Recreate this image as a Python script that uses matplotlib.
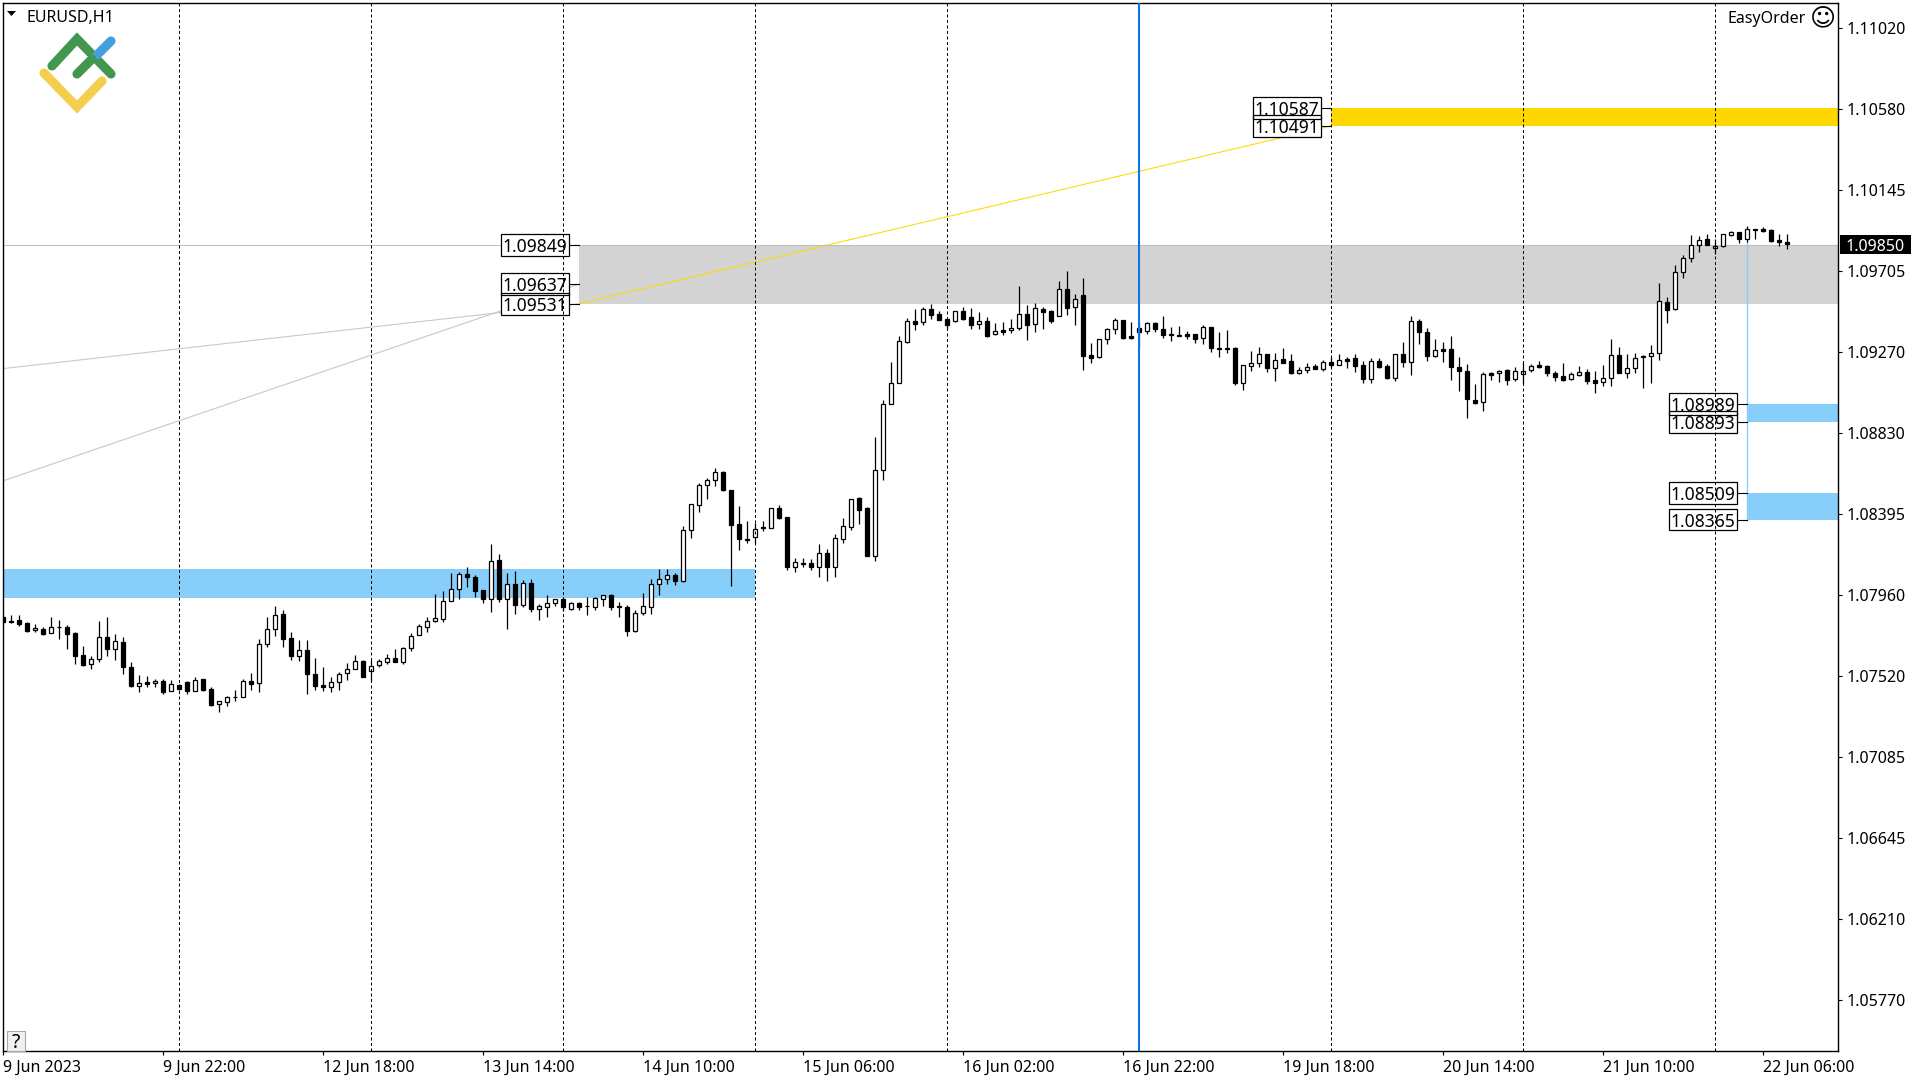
import numpy as np
import matplotlib
matplotlib.use('Agg')
import matplotlib.pyplot as plt
from matplotlib.lines import Line2D
from matplotlib.patches import Rectangle, Polygon

plt.rcParams['font.family'] = ['Noto Sans', 'DejaVu Sans']

# EURUSD H1 candles, in points (1e-5)
highs = [107846,107850,107850,107810,107801,107783,107837,107823,107794,107756,
    107683,107629,107816,107837,107746,107731,107594,107526,107521,107504,
    107504,107499,107477,107492,107513,107504,107459,107384,107411,107445,
    107503,107537,107719,107837,107897,107875,107756,107713,107713,107618,
    107569,107513,107540,107589,107634,107605,107605,107611,107638,107665,
    107679,107751,107800,107836,107963,107980,108075,108080,108109,108064,
    107985,108233,108178,108075,108088,108037,108043,107908,107956,107935,
    107949,107917,107918,107949,107945,107956,107962,107918,107904,107875,
    107967,108043,108097,108097,108075,108329,108448,108561,108588,108642,
    108626,108523,108439,108358,108345,108356,108426,108442,108377,108156,
    108156,108152,108233,108205,108286,108374,108476,108485,108431,108811,
    109011,109216,109355,109452,109502,109511,109529,109492,109448,109490,
    109513,109508,109486,109457,109425,109432,109448,109627,109522,109535,
    109513,109497,109652,109706,109583,109668,109317,109340,109398,109454,
    109443,109432,109434,109430,109432,109465,109403,109411,109384,109367,
    109414,109405,109378,109389,109297,109198,109276,109295,109258,109263,
    109292,109259,109191,109211,109204,109225,109245,109259,109241,109259,
    109220,109238,109236,109204,109258,109322,109465,109447,109400,109340,
    109324,109357,109241,109205,109097,109160,109164,109171,109178,109189,
    109216,109205,109220,109198,109166,109209,109160,109195,109178,109166,
    109200,109340,109297,109259,109263,109256,109306,109643,109565,109738,
    109792,109904,109897,109907,109879,109907,109922,109918,109951,109936,
    109943,109936,109907,109907]
lows = [107812,107805,107792,107755,107760,107744,107751,107722,107668,107587,
    107576,107560,107598,107630,107609,107533,107463,107431,107459,107459,
    107425,107438,107445,107425,107438,107438,107360,107328,107360,107387,
    107405,107445,107436,107674,107738,107674,107609,107603,107425,107447,
    107441,107436,107447,107501,107557,107517,107492,107571,107587,107593,
    107585,107657,107740,107755,107809,107809,107924,107938,108001,107947,
    107915,107863,107917,107776,107855,107895,107863,107823,107841,107900,
    107872,107879,107877,107852,107877,107899,107877,107839,107738,107760,
    107852,107857,107960,108019,108014,108030,108268,108408,108476,108548,
    108521,108008,108203,108241,108232,108305,108318,108367,108095,108079,
    108107,108093,108052,108035,108052,108239,108309,108341,108170,108142,
    108579,108991,109101,109319,109391,109418,109448,109443,109394,109434,
    109445,109394,109394,109351,109364,109364,109375,109391,109335,109378,
    109394,109429,109463,109470,109418,109175,109211,109240,109313,109367,
    109342,109340,109297,109369,109378,109346,109330,109357,109339,109319,
    109313,109270,109243,109267,109092,109065,109168,109189,109162,109114,
    109213,109151,109153,109159,109180,109169,109182,109200,109186,109164,
    109103,109103,109186,109126,109115,109189,109146,109313,109222,109245,
    109216,109119,109060,108916,108991,108952,109119,109108,109092,109112,
    109097,109164,109182,109141,109115,109115,109121,109141,109097,109049,
    109087,109087,109157,109130,109157,109078,109103,109227,109429,109495,
    109672,109756,109812,109848,109799,109839,109895,109861,109866,109880,
    109918,109862,109844,109828]
opens = [107837,107816,107823,107807,107767,107773,107751,107782,107783,107751,
    107632,107584,107611,107729,107665,107702,107567,107468,107486,107481,
    107492,107438,107470,107486,107441,107503,107449,107368,107378,107404,
    107405,107492,107481,107692,107773,107854,107724,107627,107659,107530,
    107470,107459,107486,107535,107557,107600,107546,107578,107593,107616,
    107593,107670,107740,107782,107816,107827,107924,107989,108070,108053,
    107983,107938,108145,107938,108016,107906,108021,107884,107895,107913,
    107935,107884,107913,107897,107895,107935,107956,107895,107891,107765,
    107859,107891,108016,108043,108064,108035,108307,108442,108550,108577,
    108620,108523,108340,108257,108269,108318,108318,108426,108377,108107,
    108127,108131,108111,108183,108106,108262,108327,108482,108428,108170,
    108631,108991,109101,109326,109438,109430,109502,109475,109448,109436,
    109492,109459,109420,109438,109366,109389,109387,109398,109475,109420,
    109502,109492,109463,109609,109511,109578,109254,109241,109339,109393,
    109443,109355,109400,109382,109427,109394,109362,109357,109369,109367,
    109348,109405,109288,109288,109292,109105,109196,109213,109258,109186,
    109232,109222,109157,109171,109193,109180,109214,109202,109232,109238,
    109198,109126,109220,109193,109132,109258,109214,109436,109376,109247,
    109285,109285,109187,109166,109009,108998,109157,109155,109171,109126,
    109150,109171,109198,109193,109155,109139,109123,109146,109160,109117,
    109106,109128,109252,109159,109182,109241,109247,109263,109538,109501,
    109700,109776,109846,109879,109830,109841,109900,109916,109882,109931,
    109933,109929,109873,109862]
closes = [107814,107812,107803,107765,107778,107749,107783,107783,107749,107630,
    107582,107611,107729,107668,107708,107566,107468,107481,107479,107492,
    107436,107476,107452,107441,107497,107447,107366,107384,107404,107407,
    107492,107479,107692,107773,107848,107722,107627,107659,107530,107468,
    107458,107486,107530,107557,107600,107517,107573,107600,107616,107598,
    107670,107738,107789,107816,107832,107924,107989,108070,108052,107981,
    107938,108140,107938,108016,107906,108021,107884,107897,107913,107935,
    107890,107913,107890,107899,107940,107956,107895,107899,107765,107859,
    107897,108016,108043,108064,108035,108307,108448,108550,108577,108620,
    108525,108338,108259,108260,108313,108323,108426,108376,108106,108134,
    108131,108111,108183,108106,108264,108329,108476,108417,108170,108631,
    108988,109101,109328,109436,109423,109501,109472,109445,109416,109490,
    109450,109418,109436,109357,109382,109380,109398,109474,109418,109506,
    109488,109439,109609,109506,109555,109250,109240,109339,109393,109441,
    109348,109348,109380,109425,109394,109364,109366,109362,109357,109342,
    109403,109292,109292,109292,109103,109198,109209,109258,109184,109225,
    109213,109157,109171,109187,109180,109214,109202,109225,109223,109195,
    109126,109220,109191,109132,109258,109214,109436,109376,109250,109279,
    109277,109191,109166,109015,108997,109150,109148,109169,109121,109166,
    109166,109193,109191,109159,109137,109119,109150,109160,109114,109105,
    109128,109252,109159,109182,109236,109247,109263,109544,109499,109700,
    109776,109846,109873,109850,109841,109906,109916,109880,109933,109933,
    109925,109871,109862,109852]

yticks = [1.11020, 1.10580, 1.10145, 1.09705, 1.09270, 1.08830, 1.08395,
          1.07960, 1.07520, 1.07085, 1.06645, 1.06210, 1.05770]
xlabels = ['9 Jun 2023', '9 Jun 22:00', '12 Jun 18:00', '13 Jun 14:00', '14 Jun 10:00', '15 Jun 06:00',
           '16 Jun 02:00', '16 Jun 22:00', '19 Jun 18:00', '20 Jun 14:00', '21 Jun 10:00', '22 Jun 06:00']
separators = [22, 46, 70, 94, 118, 166, 190, 214]
blue_line = 142

# zones: bar where it starts, bar where it ends (None = right edge), prices
gray_zone = (72, None, 1.09849, 1.09531)
gold_zone = (166, None, 1.10587, 1.10491)
blue_zones = [(-1, 94, 1.08096, 1.07943), (218, None, 1.08989, 1.08893), (218, None, 1.08509, 1.08365)]

# price boxes: bar of the zone edge, price
price_boxes = [(72, 1.09849), (72, 1.09637), (72, 1.09531), (166, 1.10587), (166, 1.10491),
               (218, 1.08989), (218, 1.08893), (218, 1.08509), (218, 1.08365)]

W, H = 1920, 1080
fig = plt.figure(figsize=(19.2, 10.8), dpi=100)
ax = fig.add_axes([2.5/W, 1-1051/H, (1838-2.5)/W, (1051-2.5)/H])
x_max = 229.34
ax.set_xlim(-0.1, x_max)
ax.set_ylim(1.054945, 1.111577)


def zone(z, color):
    x0, x1, top, bot = z
    if x1 is None:
        x1 = x_max
    ax.fill_between([x0, x1], bot, top, color=color, lw=0, zorder=1)


zone(gray_zone, '#D3D3D3')
zone(gold_zone, '#FFD700')
for z in blue_zones:
    zone(z, '#87CEFA')

# trend lines
ax.plot([-0.1, 72], [1.09180, 1.09531], color='#C8C8C8', lw=0.8, zorder=1.5)
ax.plot([-0.1, 72], [1.08573, 1.09637], color='#C8C8C8', lw=0.8, zorder=1.5)
ax.plot([72, 166], [1.09531, 1.10491], color='#FFD700', lw=0.75, zorder=1.5)
ax.plot([218, 218], [1.08365, 1.09882], color='#87CEFA', lw=1, zorder=1.5)
ax.axhline(1.09850, color='#C0C0C0', lw=0.8, zorder=1.6)

# candles
idx = np.arange(len(highs))
o = np.array(opens)/1e5
c = np.array(closes)/1e5
ax.vlines(idx, np.array(lows)/1e5, np.array(highs)/1e5, color='black', lw=0.9, zorder=3)
ax.bar(idx, np.abs(c-o), bottom=np.minimum(o, c), width=0.5,
       color=['white' if cl >= op else 'black' for op, cl in zip(o, c)],
       edgecolor='black', linewidth=0.9, zorder=3.1)

# period separators
for s in separators:
    ax.axvline(s, color='black', lw=0.72, ls=(0, (3, 2.5)), zorder=5)
ax.axvline(blue_line, color='#0F74E6', lw=1.5, zorder=5)

# price boxes, fill first so that both edges of overlapping boxes show
box_w = 8.5
box_h = 0.00117
for bar, price in price_boxes:
    ax.plot([bar-1.25, bar], [price, price], color='black', lw=0.8, zorder=4)
    ax.add_patch(Rectangle((bar-1.25-box_w, price-box_h/2), box_w, box_h, fc='white', ec='none', zorder=4.1))
for bar, price in price_boxes:
    ax.add_patch(Rectangle((bar-1.25-box_w, price-box_h/2), box_w, box_h, fc='none', ec='black', lw=0.9, zorder=4.2))
    ax.text(bar-1.25-box_w/2, price, '%.5f' % price, ha='center', va='center_baseline', fontsize=12.6,
            zorder=4.3)

# axes
ax.set_yticks(yticks)
ax.set_yticklabels(['%.5f' % t for t in yticks], va='center_baseline')
ax.yaxis.tick_right()
ax.set_xticks(idx[::20])
ax.set_xticklabels(xlabels, ha='left')
ax.tick_params(axis='y', length=3, width=0.8, pad=3.5, labelsize=11.5)
ax.tick_params(axis='x', length=3, width=0.8, pad=3, labelsize=11.5)
for sp in ax.spines.values():
    sp.set_linewidth(1.0)

# current price tag
fig.patches.append(Rectangle((1840/W, 1-254/H), 71/W, 19/H, transform=fig.transFigure, fc='black', ec='none'))
fig.text(1875.5/W, 1-245/H, '1.09850', color='white', ha='center', va='center_baseline', fontsize=11.5)

# header
fig.patches.append(Polygon([(7/W, 1-11/H), (16/W, 1-11/H), (11.5/W, 1-16/H)], transform=fig.transFigure, fc='black', ec='none'))
fig.text(26/W, 1-15.5/H, 'EURUSD,H1', ha='left', va='center_baseline', fontsize=11.5)
fig.text(1806/W, 1-17/H, 'EasyOrder', ha='right', va='center_baseline', fontsize=11.5)
fig.text(1823/W, 1-18/H, '\u263a', ha='center', va='center', fontsize=18, family='DejaVu Sans')

# help button
fig.patches.append(Rectangle((6.8/W, 1-1050.5/H), 18/W, 20/H, transform=fig.transFigure, fc='#F0F0F0', ec='#A8A8A8', lw=0.8))
fig.text(15.5/W, 1-1041/H, '?', ha='center', va='center_baseline', fontsize=14)

# logo strokes
logo = [
    ([(52, 66), (77, 39), (111, 74)], '#43964D'),
    ([(97, 55), (111, 41)], '#469FDD'),
    ([(77, 74), (92, 59)], '#43964D'),
    ([(44, 73), (77, 107), (102, 81)], '#F4CF4E'),
]
for pts, col in logo:
    xs = [p[0]/W for p in pts]
    ys = [1-p[1]/H for p in pts]
    fig.add_artist(Line2D(xs, ys, color=col, lw=6.6, solid_capstyle='round', solid_joinstyle='miter',
                          transform=fig.transFigure))

fig.savefig('out.png', dpi=100)
